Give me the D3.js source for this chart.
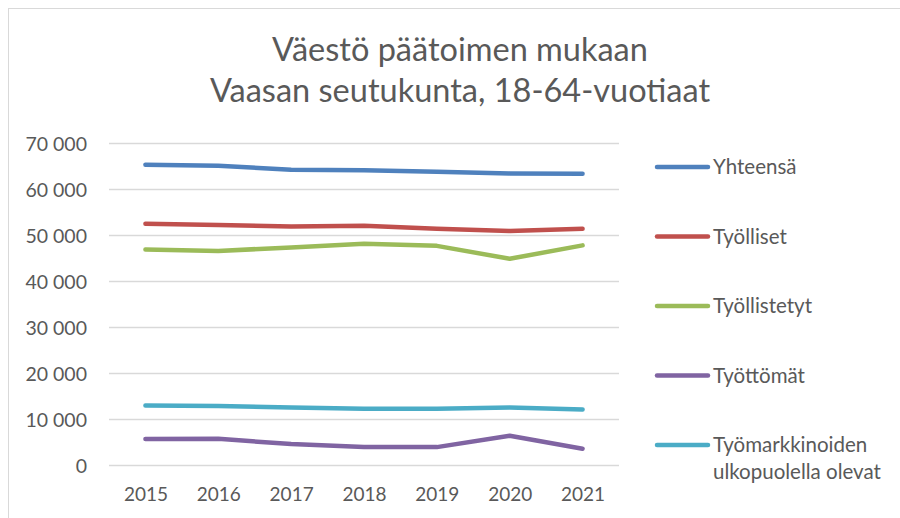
<!DOCTYPE html>
<html>
<head>
<meta charset="utf-8">
<script src="https://cdn.jsdelivr.net/npm/d3@7"></script>
<style>
  body { margin: 0; background: #fff; }
  svg text { font-family: Lato, "Open Sans", sans-serif; fill: #595959; }
</style>
</head>
<body>
<svg id="chart" width="900" height="518"></svg>
<script>
const years = ["2015", "2016", "2017", "2018", "2019", "2020", "2021"];
const yhteensa = [65400, 65150, 64300, 64200, 63850, 63500, 63400];
const tyolliset = [52550, 52300, 51950, 52100, 51450, 51000, 51450];
const tyollistetyt = [46950, 46650, 47400, 48200, 47750, 44950, 47850];
const tyottomat = [5750, 5800, 4650, 4000, 4000, 6450, 3650];
const ulkopuolella = [13050, 12950, 12600, 12350, 12350, 12600, 12200];
const yTicks = [0, 10000, 20000, 30000, 40000, 50000, 60000, 70000];

const series = [
  {name: ["Yhteensä"], values: yhteensa, color: "#4f81bd"},
  {name: ["Työlliset"], values: tyolliset, color: "#c0504d"},
  {name: ["Työllistetyt"], values: tyollistetyt, color: "#9bbb59"},
  {name: ["Työttömät"], values: tyottomat, color: "#8064a2"},
  {name: ["Työmarkkinoiden", "ulkopuolella olevat"], values: ulkopuolella, color: "#4bacc6"}
];

const svg = d3.select("#chart");
const margin = {left: 109, right: 281, top: 143.5, bottom: 52.5};
const W = 900, H = 518;

// chart border
svg.append("rect")
  .attr("x", 8.5).attr("y", 8.5)
  .attr("width", W + 10).attr("height", H + 10)
  .attr("fill", "none")
  .attr("stroke", "#d9d9d9");

// title
const title = svg.append("text")
  .attr("text-anchor", "middle")
  .style("font-size", "32.5px");
title.append("tspan").attr("x", 460).attr("y", 61).text("Väestö päätoimen mukaan");
title.append("tspan").attr("x", 460).attr("y", 102).text("Vaasan seutukunta, 18-64-vuotiaat");

const x = d3.scalePoint()
  .domain(years)
  .range([margin.left, W - margin.right])
  .padding(0.5);

const y = d3.scaleLinear()
  .domain([0, 70000])
  .range([H - margin.bottom, margin.top]);

const fmt = d => d3.format(",")(d).replace(/,/g, " ");

// grid
svg.append("g")
  .selectAll("line")
  .data(yTicks)
  .join("line")
    .attr("x1", margin.left)
    .attr("x2", W - margin.right)
    .attr("y1", d => y(d))
    .attr("y2", d => y(d))
    .attr("stroke", "#d9d9d9")
    .attr("stroke-width", 1.3);

// y axis labels
const yAxis = svg.append("g")
  .attr("transform", `translate(${margin.left - 22},0)`)
  .call(d3.axisLeft(y).tickValues(yTicks).tickFormat(fmt).tickSize(0).tickPadding(0));
yAxis.select(".domain").remove();
yAxis.selectAll("text")
  .style("font-size", "19.5px")
  .style("font-family", "Lato, sans-serif")
  .attr("fill", "#595959")
  .attr("dy", "0.35em");

// x axis labels
const xAxis = svg.append("g")
  .attr("transform", `translate(0,${y(0)})`)
  .call(d3.axisBottom(x).tickSize(0).tickPadding(22));
xAxis.select(".domain").remove();
xAxis.selectAll("text")
  .style("font-size", "19px")
  .style("font-family", "Lato, sans-serif")
  .attr("fill", "#595959");

// lines
const line = d3.line()
  .x((d, i) => x(years[i]))
  .y(d => y(d));

svg.append("g")
  .selectAll("path")
  .data(series)
  .join("path")
    .attr("d", d => line(d.values))
    .attr("fill", "none")
    .attr("stroke", d => d.color)
    .attr("stroke-width", 4.5)
    .attr("stroke-linecap", "round")
    .attr("stroke-linejoin", "round");

// legend
const legend = svg.append("g")
  .selectAll("g")
  .data(series)
  .join("g")
    .attr("transform", (d, i) => `translate(657,${167 + i * 69.5})`);

legend.append("line")
  .attr("x1", 0).attr("x2", 51)
  .attr("stroke", d => d.color)
  .attr("stroke-width", 4.5)
  .attr("stroke-linecap", "round");

legend.append("text")
  .style("font-size", "20.5px")
  .selectAll("tspan")
  .data(d => d.name)
  .join("tspan")
    .attr("x", 56)
    .attr("y", (d, i) => i * 27)
    .attr("dy", "0.35em")
    .text(d => d);
</script>
</body>
</html>
